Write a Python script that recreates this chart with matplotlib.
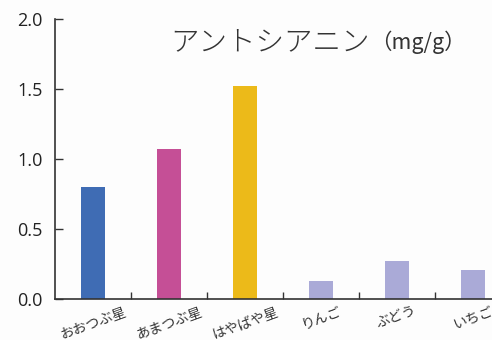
import numpy as np
import matplotlib.pyplot as plt

labels = ['おおつぶ星', 'あまつぶ星', 'はやばや星', 'りんご', 'ぶどう', 'いちご']
values = [0.80, 1.07, 1.52, 0.13, 0.27, 0.21]
colors = ['#3f6cb4', '#c54f96', '#ecba19', '#aaaad7', '#aaaad7', '#aaaad7']
yticks = [0.0, 0.5, 1.0, 1.5, 2.0]

plt.rcParams['font.family'] = ['Noto Sans CJK JP', 'DejaVu Sans']

fig = plt.figure(figsize=(4.92, 3.4), dpi=100, facecolor='#fdfdfd')
# axes run past the right edge, the last category gets cut like in the original
ax = fig.add_axes([55/492, 41/340, 456/492, 280/340], facecolor='#fdfdfd')

x = np.arange(len(labels))
ax.bar(x, values, width=24/76, color=colors)

ax.set_xlim(-0.5, len(labels) - 0.5)
ax.set_ylim(0, 2.0)
ax.set_yticks(yticks)
ax.set_yticklabels(['%.1f' % v for v in yticks], fontfamily='Open Sans', fontsize=13, color='#222222')
ax.set_xticks(x + 0.5, minor=False)
ax.set_xticklabels([])
ax.set_xticks(x, minor=True)
ax.set_xticklabels(labels, minor=True, rotation=20, fontsize=10, color='#333333')
ax.tick_params(axis='x', which='minor', length=0, pad=4)
ax.tick_params(axis='x', which='major', direction='in', length=5, width=1, color='#333333')
ax.tick_params(axis='y', direction='in', length=6, width=1, color='#333333', pad=9)

for s in ['top', 'right']:
    ax.spines[s].set_visible(False)
for s in ['left', 'bottom']:
    ax.spines[s].set_color('#333333')
    ax.spines[s].set_linewidth(1.2)

# title: katakana wide and thin, unit smaller
fig.text(170/492, 1 - 42/340, 'アントシアニン', fontsize=20.5, fontweight='light',
         color='#333333', va='center', ha='left')
fig.text(370/492, 1 - 42/340, '（mg/g）', fontsize=15.5, fontweight='normal',
         color='#333333', va='center', ha='left')

fig.savefig('out.png', dpi=100, facecolor=fig.get_facecolor())
